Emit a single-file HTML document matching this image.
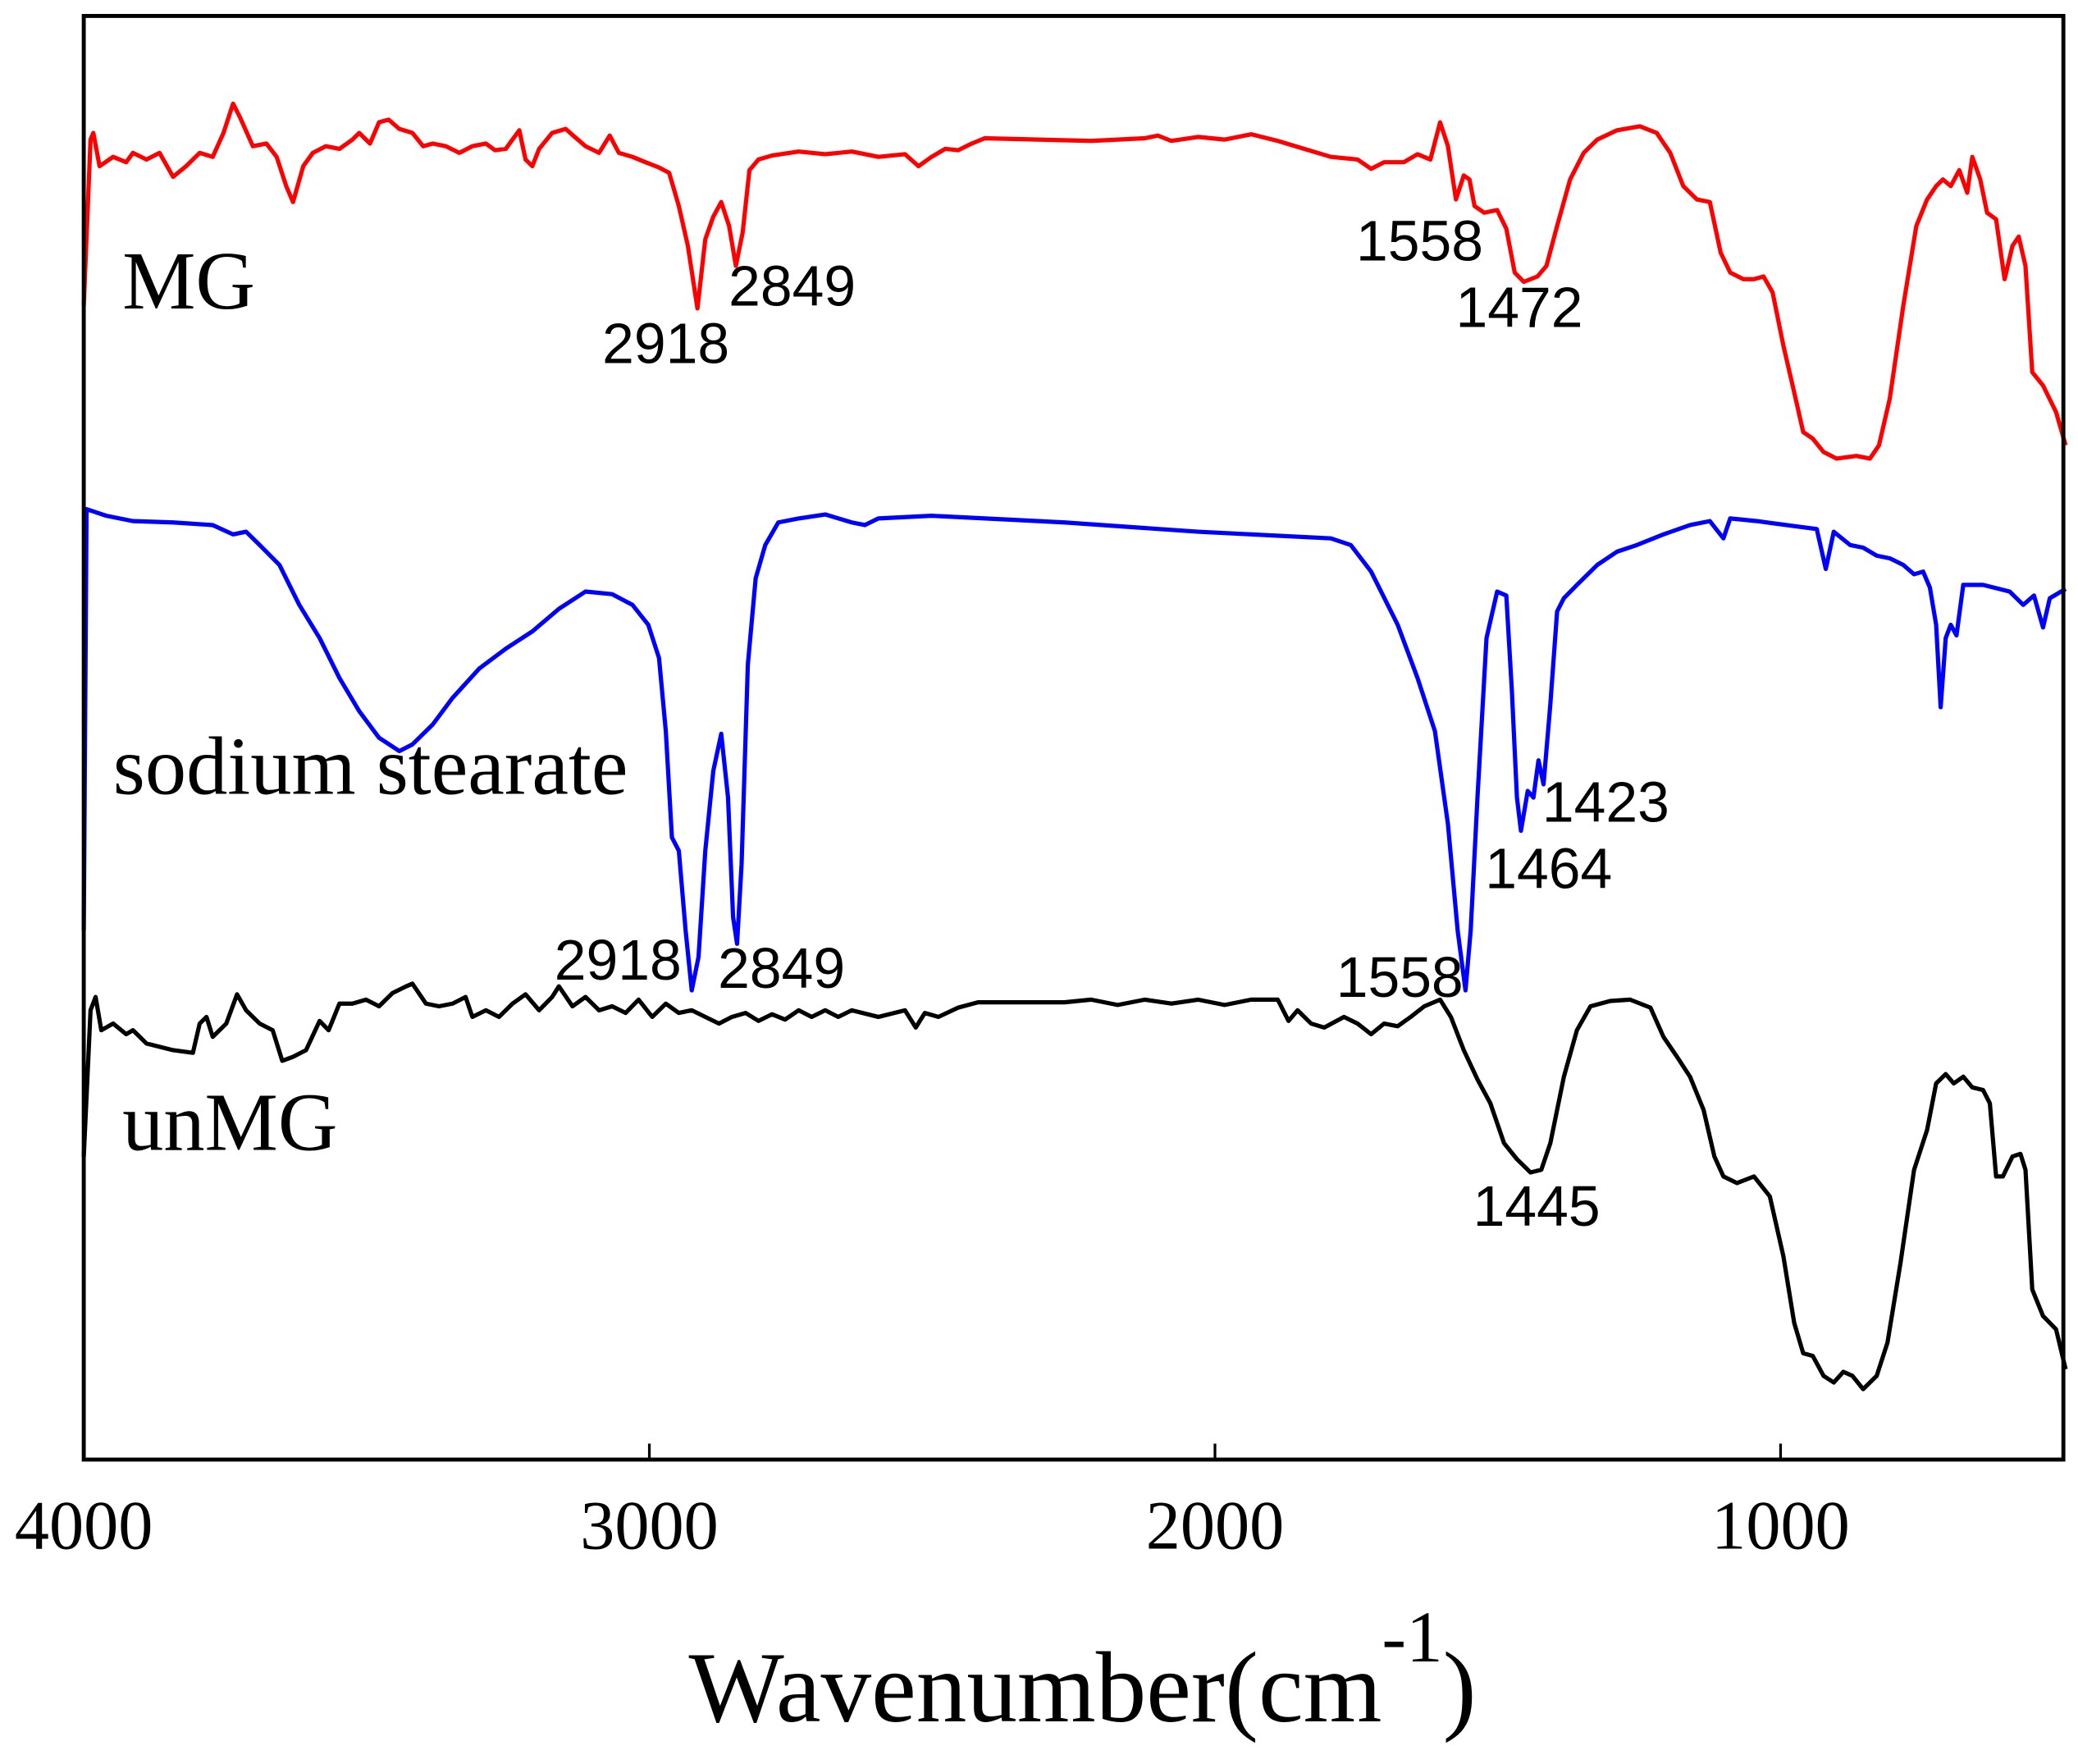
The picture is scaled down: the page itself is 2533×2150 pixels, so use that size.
<!DOCTYPE html>
<html><head><meta charset="utf-8"><style>
html,body{margin:0;padding:0;background:#fff;}
svg{display:block;}
.serif{font-family:"Liberation Serif",serif;}
.sans{font-family:"Liberation Sans",sans-serif;}
</style></head><body>
<svg id="chart" width="2533" height="2150" viewBox="0 0 1563 1327" preserveAspectRatio="none" xmlns="http://www.w3.org/2000/svg">
<rect x="0" y="0" width="1563" height="1327" fill="#fff"/>
<g id="series"></g>
<rect x="63" y="12" width="1489" height="1086" fill="none" stroke="#000" stroke-width="3"/>
<g id="ticks"></g>
<text class="serif" x="518" y="1295" font-size="76">Wavenumber(cm<tspan dy="-45" font-size="55">-1</tspan><tspan dy="45">)</tspan></text>
<text class="serif" x="92" y="232" font-size="62">MG</text>
<text class="serif" x="85" y="597" font-size="62">sodium stearate</text>
<text class="serif" x="92" y="865" font-size="62">unMG</text>
<g class="sans" font-size="43">
<text x="453" y="273">2918</text>
<text x="548" y="230">2849</text>
<text x="1020" y="196">1558</text>
<text x="1095" y="246">1472</text>
<text x="417" y="737">2918</text>
<text x="540" y="743">2849</text>
<text x="1005" y="750">1558</text>
<text x="1117" y="668">1464</text>
<text x="1160" y="618">1423</text>
<text x="1108" y="922">1445</text>
</g>
</svg>
<script>
const xTicks = [4000, 3000, 2000, 1000];
const xTickLabels = ["4000", "3000", "2000", "1000"];
const mgWn = [4000,3988,3983,3972,3948,3925,3913,3889,3866,3842,3819,3795,3772,3753,3736,3724,3701,3677,3659,3642,3630,3612,3595,3572,3548,3525,3513,3494,3478,3461,3442,3419,3400,3383,3360,3336,3313,3289,3273,3254,3230,3219,3207,3195,3172,3148,3132,3113,3089,3070,3054,3030,3007,2983,2965,2948,2932,2915,2901,2887,2873,2859,2847,2835,2823,2807,2783,2736,2689,2642,2595,2548,2524,2501,2477,2454,2430,2407,2313,2219,2124,2101,2077,2030,1983,1936,1889,1842,1795,1748,1724,1701,1666,1642,1619,1602,1588,1574,1560,1550,1541,1524,1501,1485,1470,1454,1430,1414,1395,1372,1348,1324,1289,1249,1219,1195,1172,1148,1125,1106,1089,1066,1047,1030,1014,995,976,960,943,924,901,866,842,826,807,783,760,741,725,713,699,684,670,661,647,635,619,604,590,579,567,555,536,513,496];
const mgVal = [870,995,1000,975,982,978,985,980,985,967,975,985,982,1000,1022,1012,990,992,982,960,948,975,985,990,988,995,1000,992,1008,1010,1003,1000,990,992,990,985,990,992,987,988,1002,980,975,988,1000,1003,997,990,985,998,985,982,978,974,970,945,915,868,920,937,948,930,900,925,972,980,983,986,984,986,982,984,975,982,988,987,992,996,995,994,996,998,994,997,995,999,994,988,982,980,973,978,978,984,980,1008,990,950,968,965,945,940,942,928,895,888,892,900,930,965,985,995,1002,1005,1000,985,960,950,948,910,895,890,890,892,880,840,805,775,770,760,755,757,755,765,800,870,930,950,960,965,960,972,955,982,965,940,935,890,915,922,900,820,810,790,765];
const ssWn = [4000,3995,3960,3913,3842,3772,3736,3713,3689,3654,3619,3583,3548,3513,3478,3442,3419,3383,3348,3301,3254,3207,3160,3113,3066,3030,3002,2983,2971,2960,2948,2936,2925,2913,2901,2887,2873,2861,2852,2845,2837,2826,2812,2795,2772,2736,2689,2642,2619,2595,2501,2266,2030,1795,1760,1724,1677,1642,1611,1588,1571,1557,1548,1536,1520,1501,1485,1475,1466,1459,1447,1437,1428,1419,1407,1395,1383,1360,1324,1289,1254,1207,1160,1125,1101,1089,1042,972,936,920,906,877,854,830,807,783,764,748,736,725,717,708,699,689,677,642,595,571,552,536,524,496];
const ssVal = [400,717,712,708,707,705,698,700,690,675,645,620,590,565,545,535,540,555,575,597,612,625,642,655,653,645,630,605,550,470,460,400,355,380,460,520,548,500,410,390,450,600,665,690,707,710,713,707,705,710,712,707,700,695,690,670,630,590,550,480,400,355,400,500,620,655,652,580,500,475,505,500,528,510,570,640,650,660,675,685,690,698,705,708,695,710,708,704,702,672,700,690,688,682,680,675,668,670,658,630,568,620,630,622,660,660,655,645,652,628,650,657];
const unWn = [4000,3988,3979,3969,3948,3925,3913,3889,3842,3807,3795,3783,3772,3748,3729,3713,3689,3666,3649,3630,3607,3583,3567,3548,3525,3501,3478,3454,3430,3419,3395,3372,3348,3325,3313,3289,3266,3242,3219,3195,3172,3160,3136,3113,3089,3066,3042,3019,2995,2971,2948,2925,2901,2877,2854,2830,2807,2783,2760,2736,2713,2689,2666,2642,2595,2548,2529,2513,2489,2454,2419,2266,2219,2172,2124,2077,2030,1983,1936,1889,1870,1854,1830,1807,1772,1748,1724,1701,1677,1654,1630,1602,1583,1560,1536,1513,1489,1466,1442,1423,1407,1383,1360,1336,1301,1266,1230,1207,1183,1160,1136,1117,1101,1077,1047,1019,995,976,960,943,924,906,889,873,854,830,811,788,764,741,725,708,694,677,661,642,630,619,607,590,576,567,555,536,513,496];
const unVal = [230,340,350,325,330,322,325,315,310,308,330,335,320,330,352,340,330,325,302,305,310,332,325,345,345,348,343,353,358,360,345,343,345,350,335,340,335,345,352,340,350,358,343,350,340,343,338,348,335,345,338,340,335,330,335,338,332,337,333,340,335,340,335,340,335,340,327,338,335,342,346,346,348,344,348,345,348,344,348,348,332,340,330,327,335,330,322,330,328,335,343,348,335,310,288,270,240,228,218,220,240,290,325,343,347,348,342,320,305,290,265,230,215,210,215,200,155,105,82,80,65,60,68,65,55,65,90,150,220,250,285,292,285,290,282,280,270,215,215,230,232,220,130,110,100,70];

const X0 = 63, X1 = 1552, WN0 = 4000, WN1 = 500, YBASE = 1100;
function xScale(wn){ return X0 + (WN0 - wn) * (X1 - X0) / (WN0 - WN1); }
function yScale(v){ return YBASE - v; }
const NS = "http://www.w3.org/2000/svg";
function drawSeries(wn, val, color, name){
  let d = "";
  for (let i = 0; i < wn.length; i++) d += (i ? "L" : "M") + xScale(wn[i]).toFixed(1) + " " + yScale(val[i]).toFixed(1);
  const p = document.createElementNS(NS, "path");
  p.setAttribute("d", d);
  p.setAttribute("fill", "none");
  p.setAttribute("stroke", color);
  p.setAttribute("stroke-width", "3.2");
  p.setAttribute("stroke-linejoin", "round");
  
  
  document.getElementById("series").appendChild(p);
}
drawSeries(mgWn, mgVal, "#ff0000", "mg-spectrum-line");
drawSeries(ssWn, ssVal, "#0000ff", "sodium-stearate-spectrum-line");
drawSeries(unWn, unVal, "#000000", "unmg-spectrum-line");

const tg = document.getElementById("ticks");
xTicks.forEach((t, i) => {
  const x = xScale(t);
  const l = document.createElementNS(NS, "line");
  l.setAttribute("x1", x); l.setAttribute("x2", x);
  l.setAttribute("y1", 1098); l.setAttribute("y2", 1086);
  l.setAttribute("stroke", "#000"); l.setAttribute("stroke-width", "2");
  
  
  tg.appendChild(l);
  const tx = document.createElementNS(NS, "text");
  tx.setAttribute("x", x); tx.setAttribute("y", 1165);
  tx.setAttribute("text-anchor", "middle");
  tx.setAttribute("font-size", "52");
  tx.setAttribute("font-family", "Liberation Serif, serif");
  tx.textContent = xTickLabels[i];
  
  
  tg.appendChild(tx);
});
</script>
</body></html>
